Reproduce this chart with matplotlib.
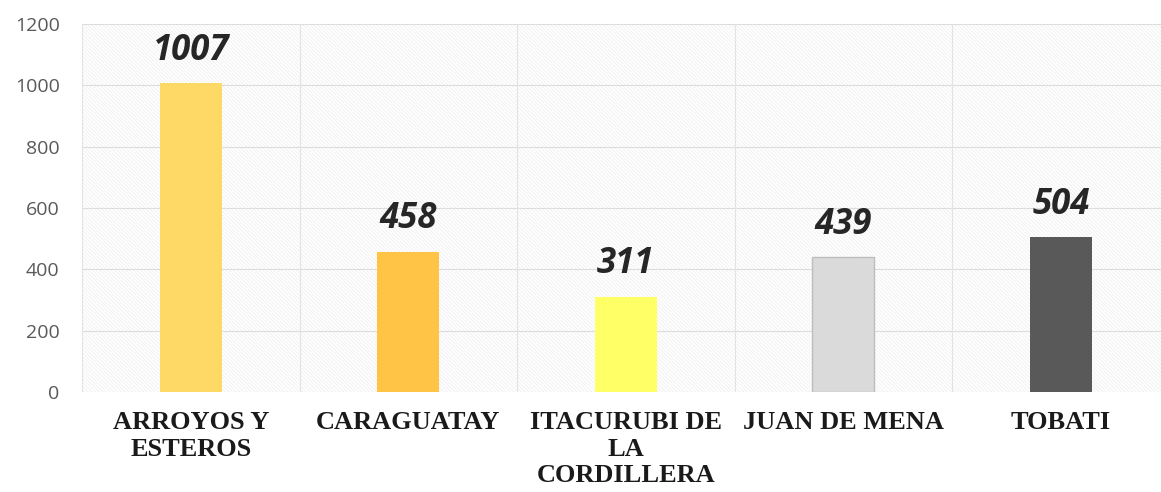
import matplotlib
matplotlib.use("Agg")
import matplotlib.pyplot as plt
from matplotlib.patches import Rectangle

districts = ["ARROYOS Y\nESTEROS", "CARAGUATAY", "ITACURUBI DE\nLA\nCORDILLERA",
             "JUAN DE MENA", "TOBATI"]
values = [1007, 458, 311, 439, 504]
bar_colors = ["#FFD966", "#FFC445", "#FFFF66", "#DADADA", "#595959"]
edge_colors = ["none", "none", "none", "#BDBDBD", "none"]

plt.rcParams["hatch.linewidth"] = 0.5
plt.rcParams["hatch.color"] = "#EDEDED"

fig = plt.figure(figsize=(11.61, 4.92), dpi=100, facecolor="white")
ax = fig.add_axes([0.0706, 0.2033, 0.9294, 0.748])

# faint diagonal texture behind the plot, like the scanned original
ax.add_patch(Rectangle((0, 0), 1, 1, transform=ax.transAxes, facecolor="white",
                       edgecolor="#EDEDED", hatch="\\" * 9, lw=0, zorder=0))

x = range(len(values))
ax.bar(x, values, width=0.285, color=bar_colors, edgecolor=edge_colors,
       linewidth=1, zorder=3)

for xi, v in zip(x, values):
    ax.annotate(str(v), (xi, v), xytext=(0, 17), textcoords="offset points",
                ha="center", va="baseline", fontsize=25, fontweight="bold",
                fontstyle="italic", family="Open Sans", color="#262626", zorder=4)

ax.set_xlim(-0.5, 4.46)
ax.set_ylim(0, 1200)
ax.set_yticks(range(0, 1201, 200))
ax.set_xticks(list(x))
ax.set_xticklabels(districts, family="Liberation Serif", fontweight="bold",
                   fontsize=19, color="#1a1a1a", linespacing=1.18, va="top")
ax.tick_params(axis="x", length=0, pad=14)
ax.tick_params(axis="y", length=0, pad=16, labelsize=14, labelcolor="#595959")
for lbl in ax.get_yticklabels():
    lbl.set_family("Open Sans")

# grid: horizontal at ticks, vertical between categories
for yv in range(0, 1201, 200):
    ax.axhline(yv, color="#DDDDDD", lw=0.8, zorder=1)
for xb in [-0.5, 0.5, 1.5, 2.5, 3.5, 4.5]:
    ax.axvline(xb, color="#E3E3E3", lw=0.8, zorder=1)

for s in ax.spines.values():
    s.set_visible(False)

fig.savefig("out.png", dpi=100, facecolor="white")
